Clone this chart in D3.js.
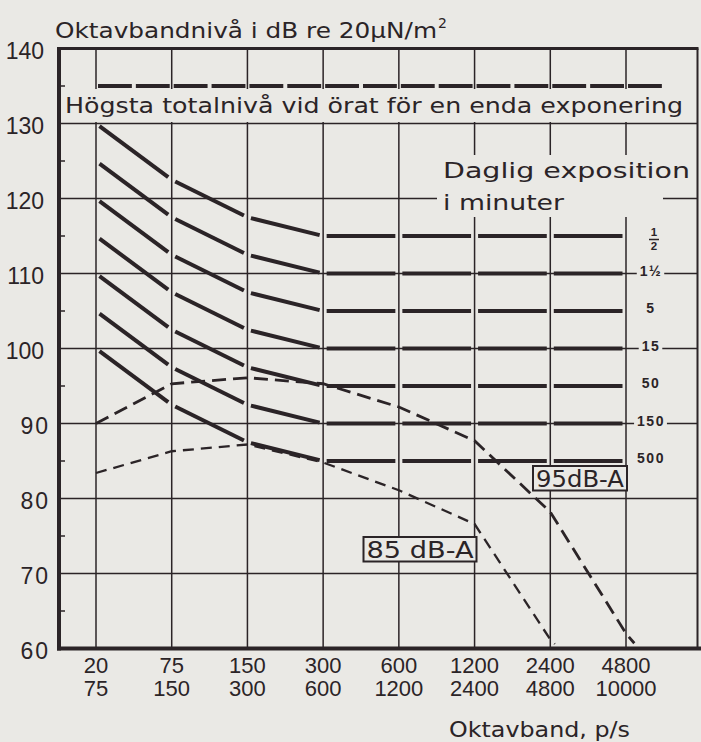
<!DOCTYPE html>
<html>
<head>
<meta charset="utf-8">
<script src="https://cdn.jsdelivr.net/npm/d3@7"></script>
<style>
  body { margin: 0; background: #eae9e5; }
  svg { display: block; }
</style>
</head>
<body>
<script>
// octave bands, lower and upper limit (p/s)
var bandLow  = ["20", "75", "150", "300", "600", "1200", "2400", "4800"];
var bandHigh = ["75", "150", "300", "600", "1200", "2400", "4800", "10000"];

// y axis ticks (dB)
var yTicks = [140, 130, 120, 110, 100, 90, 80, 70, 60];
var yMinor = [135, 125, 115, 105, 95, 85, 75, 65];

// daily exposure in minutes, one curve each (dB per octave band)
var exposureLabels = ["1/2", "1½", "5", "15", "50", "150", "500"];
var level_half  = [130, 122.5, 117.5, 115, 115, 115, 115, 115];
var level_1half = [125, 117.5, 112.5, 110, 110, 110, 110, 110];
var level_5     = [120, 112.5, 107.5, 105, 105, 105, 105, 105];
var level_15    = [115, 107.5, 102.5, 100, 100, 100, 100, 100];
var level_50    = [110, 102.5, 97.5, 95, 95, 95, 95, 95];
var level_150   = [105, 97.5, 92.5, 90, 90, 90, 90, 90];
var level_500   = [100, 92.5, 87.5, 85, 85, 85, 85, 85];

// highest total level at the ear for one single exposure
var singleMax = 135;

// dB-A reference curves, [band index, dB]
var dBA95 = [[0, 90], [1, 95.3], [2, 96.1], [3, 95.3], [4, 92.2], [5, 87.7], [6, 78.2], [7, 62], [7.11, 60.7]];
var dBA85 = [[0, 83.4], [1, 86.3], [2, 87.2], [3, 84.8], [4, 81.1], [5, 76.6], [6, 61.2], [6.06, 60.6]];

window.onload = function() {

  var paper = "#eae9e5";
  var ink = "#2b2427";
  var wordFont = "'DejaVu Sans', sans-serif";
  var numFont = "'Liberation Sans', Arial, sans-serif";

  var left = 59, right = 697.5;

  var svg = d3.select("body").append("svg")
      .attr("width", 701)
      .attr("height", 742);

  svg.append("rect").attr("width", 701).attr("height", 742).attr("fill", paper);

  var y = d3.scaleLinear().domain([60, 140]).range([648.5, 48.5]);
  var x = d3.scaleLinear().domain([0, 7]).range([96, 626]);
  var step = x(1) - x(0);

  // horizontal grid
  svg.append("g").selectAll("line")
      .data(yTicks.slice(1, -1))
    .enter().append("line")
      .attr("x1", left).attr("x2", right)
      .attr("y1", function(d) { return y(d); })
      .attr("y2", function(d) { return y(d); })
      .attr("stroke", ink).attr("stroke-width", 1.6);

  // vertical grid
  svg.append("g").selectAll("line")
      .data(d3.range(bandLow.length))
    .enter().append("line")
      .attr("x1", function(d) { return x(d); })
      .attr("x2", function(d) { return x(d); })
      .attr("y1", y(140)).attr("y2", y(60))
      .attr("stroke", ink).attr("stroke-width", 1.5);

  // minor ticks inside left axis
  svg.append("g").selectAll("line")
      .data(yMinor)
    .enter().append("line")
      .attr("x1", left).attr("x2", left + 6)
      .attr("y1", function(d) { return y(d); })
      .attr("y2", function(d) { return y(d); })
      .attr("stroke", ink).attr("stroke-width", 1.5);

  // blank band for the single exposure text
  svg.append("rect")
      .attr("x", left + 2).attr("width", right - left - 3)
      .attr("y", y(singleMax) + 3).attr("height", y(130) - y(singleMax) - 4.5)
      .attr("fill", paper);

  // blank area for "Daglig exposition i minuter"
  svg.append("rect")
      .attr("x", 437).attr("width", right - 438)
      .attr("y", 155).attr("height", 31)
      .attr("fill", paper);
  svg.append("rect")
      .attr("x", 437).attr("width", x(7) + 37 - 437)
      .attr("y", 185).attr("height", 32)
      .attr("fill", paper);

  // single exposure limit, dashed
  svg.append("line")
      .attr("x1", x(0) + 2).attr("x2", x(7) + step / 2 - 2)
      .attr("y1", y(singleMax)).attr("y2", y(singleMax))
      .attr("stroke", ink).attr("stroke-width", 4)
      .attr("stroke-dasharray", (step / 2 - 4) + "," + 4);

  svg.append("text")
      .attr("x", 65).attr("y", 113)
      .attr("font-family", wordFont).attr("font-size", 22)
      .attr("textLength", 618).attr("lengthAdjust", "spacingAndGlyphs")
      .attr("fill", ink)
      .text("Högsta totalnivå vid örat för en enda exponering");

  svg.append("text")
      .attr("x", 443).attr("y", 178)
      .attr("font-family", wordFont).attr("font-size", 22)
      .attr("textLength", 247).attr("lengthAdjust", "spacingAndGlyphs")
      .attr("fill", ink)
      .text("Daglig exposition");
  svg.append("text")
      .attr("x", 443).attr("y", 210)
      .attr("font-family", wordFont).attr("font-size", 22)
      .attr("textLength", 121).attr("lengthAdjust", "spacingAndGlyphs")
      .attr("fill", ink)
      .text("i minuter");

  // dB-A curves (dashed)
  var line = d3.line()
      .x(function(d) { return x(d[0]); })
      .y(function(d) { return y(d[1]); });

  svg.append("path").datum(dBA95)
      .attr("d", line).attr("fill", "none")
      .attr("stroke", ink).attr("stroke-width", 2.8)
      .attr("stroke-dasharray", "14,7");

  svg.append("path").datum(dBA85)
      .attr("d", line).attr("fill", "none")
      .attr("stroke", ink).attr("stroke-width", 2.3)
      .attr("stroke-dasharray", "11,7");

  // exposure curves, one short segment per band, broken at the grid
  var curves = [level_half, level_1half, level_5, level_15, level_50, level_150, level_500];
  var gap = 3.5;
  curves.forEach(function(c) {
    var segs = d3.range(c.length - 1).map(function(i) {
      var x1 = x(i), x2 = x(i + 1), y1 = y(c[i]), y2 = y(c[i + 1]);
      var k = (y2 - y1) / (x2 - x1);
      return [x1 + gap, y1 + k * gap, x2 - gap, y2 - k * gap];
    });
    svg.append("g").selectAll("line")
        .data(segs)
      .enter().append("line")
        .attr("x1", function(d) { return d[0]; })
        .attr("y1", function(d) { return d[1]; })
        .attr("x2", function(d) { return d[2]; })
        .attr("y2", function(d) { return d[3]; })
        .attr("stroke", ink).attr("stroke-width", 4);
  });

  // exposure labels in the right column
  var labX = x(7) + 25;
  curves.forEach(function(c, i) {
    var lv = y(c[c.length - 1]);
    var lab = exposureLabels[i];
    if (lab == "1/2") {
      svg.append("text").attr("x", labX + 3).attr("y", lv)
          .attr("text-anchor", "middle").attr("font-family", numFont)
          .attr("font-size", 11.5).attr("font-weight", "bold").attr("fill", ink)
          .text("1");
      svg.append("line").attr("x1", labX - 2).attr("x2", labX + 8)
          .attr("y1", lv + 3.5).attr("y2", lv + 3.5)
          .attr("stroke", ink).attr("stroke-width", 1.5);
      svg.append("text").attr("x", labX + 3).attr("y", lv + 13.5)
          .attr("text-anchor", "middle").attr("font-family", numFont)
          .attr("font-size", 11.5).attr("font-weight", "bold").attr("fill", ink)
          .text("2");
      return;
    }
    var t = svg.append("text")
        .attr("x", labX).attr("y", lv + 2)
        .attr("text-anchor", "middle")
        .attr("font-family", numFont).attr("font-size", 14)
        .attr("font-weight", "bold").attr("letter-spacing", 1.5)
        .attr("fill", ink)
        .text(lab);
    var b = t.node().getBBox();
    svg.insert("rect", function() { return t.node(); })
        .attr("x", b.x - 3).attr("y", b.y)
        .attr("width", b.width + 5).attr("height", b.height)
        .attr("fill", paper);
  });

  // boxed dB-A labels
  function boxLabel(txt, cx, base, len) {
    var t = svg.append("text")
        .attr("x", cx).attr("y", base)
        .attr("text-anchor", "middle")
        .attr("font-family", wordFont).attr("font-size", 23)
        .attr("textLength", len).attr("lengthAdjust", "spacingAndGlyphs")
        .attr("fill", ink)
        .text(txt);
    var b = t.node().getBBox();
    svg.insert("rect", function() { return t.node(); })
        .attr("x", cx - len / 2 - 3).attr("y", base - 21)
        .attr("width", len + 6).attr("height", 24.5)
        .attr("fill", paper)
        .attr("stroke", ink).attr("stroke-width", 2);
  }
  boxLabel("95dB-A", 580, 487, 88);
  boxLabel("85 dB-A", 420, 558, 107);

  // frame
  svg.append("line").attr("x1", left - 2).attr("x2", right + 1)
      .attr("y1", y(140)).attr("y2", y(140))
      .attr("stroke", ink).attr("stroke-width", 3);
  svg.append("line").attr("x1", right).attr("x2", right)
      .attr("y1", y(140)).attr("y2", y(60))
      .attr("stroke", ink).attr("stroke-width", 2);
  svg.append("line").attr("x1", left).attr("x2", left)
      .attr("y1", y(140) - 1.5).attr("y2", y(60) + 2)
      .attr("stroke", ink).attr("stroke-width", 4);
  svg.append("line").attr("x1", left - 2).attr("x2", 701)
      .attr("y1", y(60)).attr("y2", y(60))
      .attr("stroke", ink).attr("stroke-width", 4);

  // y tick labels
  svg.append("g").selectAll("text")
      .data(yTicks)
    .enter().append("text")
      .attr("x", function(d) { return d >= 100 ? 44 : 50; })
      .attr("y", function(d) { return y(d) + 10; })
      .attr("text-anchor", "end")
      .attr("font-family", numFont).attr("font-size", 23)
      .attr("letter-spacing", function(d) { return d >= 100 ? 0 : 2; })
      .attr("fill", ink)
      .text(function(d) { return d; });

  // x tick labels, two rows
  var xl = svg.append("g").selectAll("text")
      .data(d3.range(bandLow.length))
    .enter().append("text")
      .attr("text-anchor", "middle")
      .attr("font-family", numFont).attr("font-size", 22)
      .attr("fill", ink);
  xl.append("tspan")
      .attr("x", function(d) { return x(d); }).attr("y", 673)
      .text(function(d) { return bandLow[d]; });
  xl.append("tspan")
      .attr("x", function(d) { return x(d); }).attr("y", 696)
      .text(function(d) { return bandHigh[d]; });

  // axis titles
  svg.append("text")
      .attr("x", 55).attr("y", 38)
      .attr("font-family", wordFont).attr("font-size", 21)
      .attr("textLength", 382).attr("lengthAdjust", "spacingAndGlyphs")
      .attr("fill", ink)
      .text("Oktavbandnivå i dB re 20µN/m");
  svg.append("text")
      .attr("x", 438).attr("y", 28)
      .attr("font-family", wordFont).attr("font-size", 14)
      .attr("fill", ink)
      .text("2");

  svg.append("text")
      .attr("x", 449).attr("y", 737)
      .attr("font-family", wordFont).attr("font-size", 21)
      .attr("textLength", 181).attr("lengthAdjust", "spacingAndGlyphs")
      .attr("fill", ink)
      .text("Oktavband, p/s");
};
</script>
</body>
</html>
